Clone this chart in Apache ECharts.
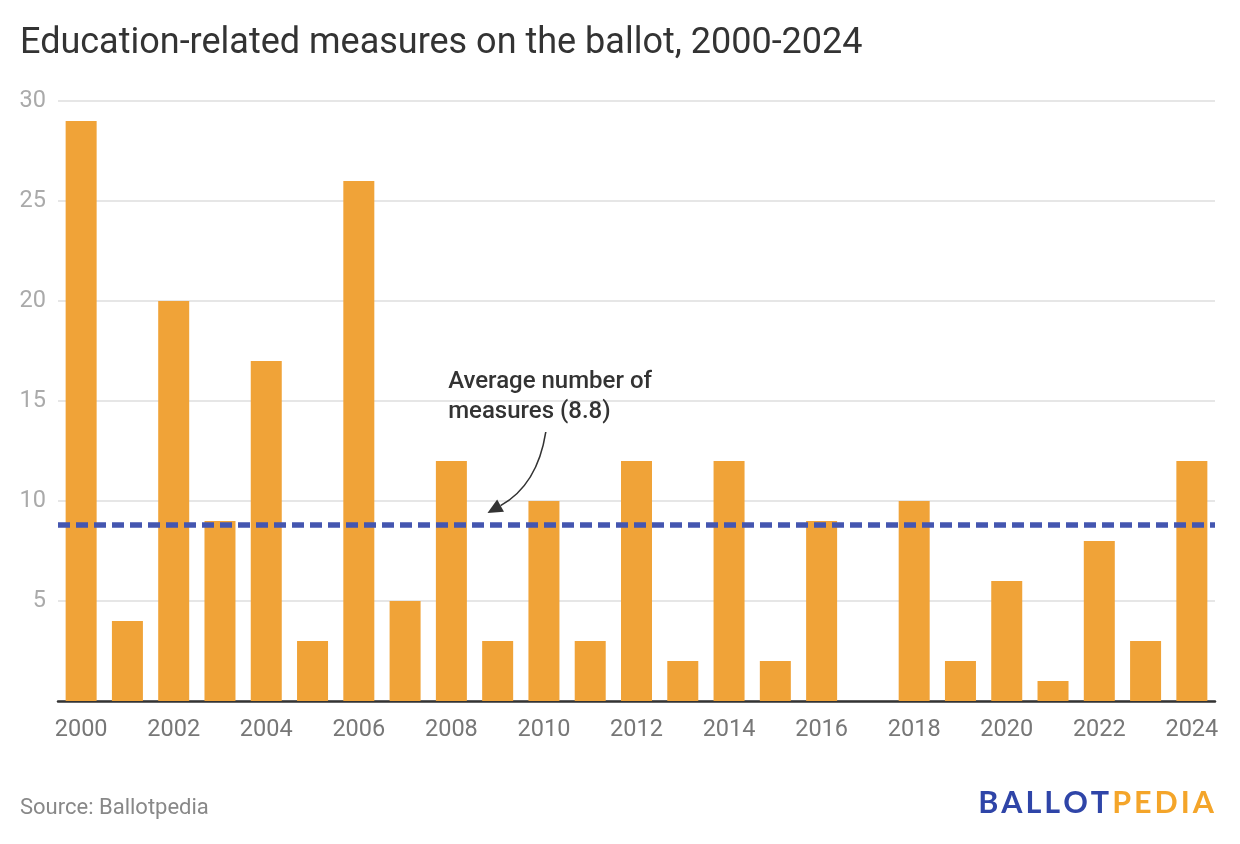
<!DOCTYPE html>
<html><head><meta charset="utf-8">
<script src="https://cdn.jsdelivr.net/npm/echarts@6/dist/echarts.min.js"></script>
<style>html,body{margin:0;padding:0;background:#fff}#c{width:1240px;height:844px}</style>
</head><body><div id="c"></div>
<script>
const years = ['2000','2001','2002','2003','2004','2005','2006','2007','2008','2009','2010','2011','2012','2013','2014','2015','2016','2017','2018','2019','2020','2021','2022','2023','2024'];
const measures = [29,4,20,9,17,3,26,5,12,3,10,3,12,2,12,2,9,0,10,2,6,1,8,3,12];
const averageValue = 8.8;
const yTicks = [0,5,10,15,20,25,30];
const titleText = 'Education-related measures on the ballot, 2000-2024';
const annotationText = 'Average number of\nmeasures (8.8)';
const sourceText = 'Source: Ballotpedia';
const logoParts = ['BALLOT','PEDIA'];

const chart = echarts.init(document.getElementById('c'), null, {renderer:'canvas'});
const FONT = 'Roboto';
chart.setOption({
  animation:false,
  textStyle:{fontFamily:FONT},
  title:{text:titleText,left:15,top:21,textStyle:{fontFamily:FONT,fontSize:36,fontWeight:'normal',color:'#333'}},
  grid:{left:58,right:25,top:101,bottom:143},
  xAxis:{type:'category',data:years,
    axisLine:{lineStyle:{color:'#333',width:2.5}},
    axisTick:{show:false},
    axisLabel:{interval:1,color:'#777',fontSize:23.5,margin:17,fontFamily:FONT}},
  yAxis:{type:'value',min:yTicks[0],max:yTicks[yTicks.length-1],interval:5,
    axisLine:{show:false},axisTick:{show:false},
    splitLine:{lineStyle:{color:'#e6e6e6',width:2}},
    axisLabel:{showMinLabel:false,color:'#aaa',fontSize:23.5,margin:12,fontFamily:FONT}},
  series:[{type:'bar',data:measures,barWidth:31,itemStyle:{color:'#f0a338'},
    markLine:{silent:true,symbol:'none',label:{show:false},z:10,
      lineStyle:{color:'#4456b0',type:[12,6],width:5.5},
      data:[{yAxis:averageValue}]}}]
});

function placeAnnotation(){
  const p0 = chart.convertToPixel({xAxisIndex:0,yAxisIndex:0},[0,0]);
  const p1 = chart.convertToPixel({xAxisIndex:0,yAxisIndex:0},[1,0]);
  const band = p1[0]-p0[0];
  const X = i => p0[0] + i*band;
  const Y = v => chart.convertToPixel({yAxisIndex:0}, v);
  const P = (i,v)=>[X(i),Y(v)];
  const t = P(7.93,15.2);
  const s = P(10.04,13.45);
  const c = P(9.86,10.8);
  const e = P(8.78,9.4);
  const ang = Math.atan2(e[1]-c[1], e[0]-c[0]);
  const L=15, W=7;
  const bx = e[0]-L*Math.cos(ang), by = e[1]-L*Math.sin(ang);
  const nx = -Math.sin(ang), ny = Math.cos(ang);

  const cv = document.createElement('canvas').getContext('2d');
  const lf = 30.5, sp = 3;
  cv.font = 'bold '+lf+'px Lato';
  const letters = [];
  logoParts.forEach((part,k)=>{ for (const ch of part) letters.push({ch, col: k===0?'#2f45a8':'#f4a52a'}); });
  let total = 0;
  letters.forEach((l,i)=>{ l.w = cv.measureText(l.ch).width; total += l.w + (i<letters.length-1?sp:0); });
  let x = 1214 - total;
  const logo = letters.map(l=>{ const el = {type:'text',x:x,y:803,style:{text:l.ch,fontFamily:'Lato',fontWeight:'bold',fontSize:lf,fill:l.col,textVerticalAlign:'middle'}}; x += l.w + sp; return el; });

  chart.setOption({graphic:[
    {type:'text',x:20,y:808,style:{text:sourceText,fontFamily:FONT,fontSize:22,fill:'#888',textVerticalAlign:'middle'}},
    ...logo,
    {type:'text',x:t[0],y:t[1],z:20,style:{text:annotationText,fontFamily:FONT,fontSize:24,fontWeight:500,fill:'#333',lineHeight:30,textVerticalAlign:'middle'}},
    {type:'bezierCurve',z:20,shape:{x1:s[0],y1:s[1],x2:bx,y2:by,cpx1:c[0],cpy1:c[1]},style:{stroke:'#333',lineWidth:1.6,fill:null}},
    {type:'polygon',z:20,shape:{points:[[e[0],e[1]],[bx+nx*W,by+ny*W],[bx-nx*W,by-ny*W]]},style:{fill:'#333'}}
  ]});
}
placeAnnotation();
</script></body></html>
